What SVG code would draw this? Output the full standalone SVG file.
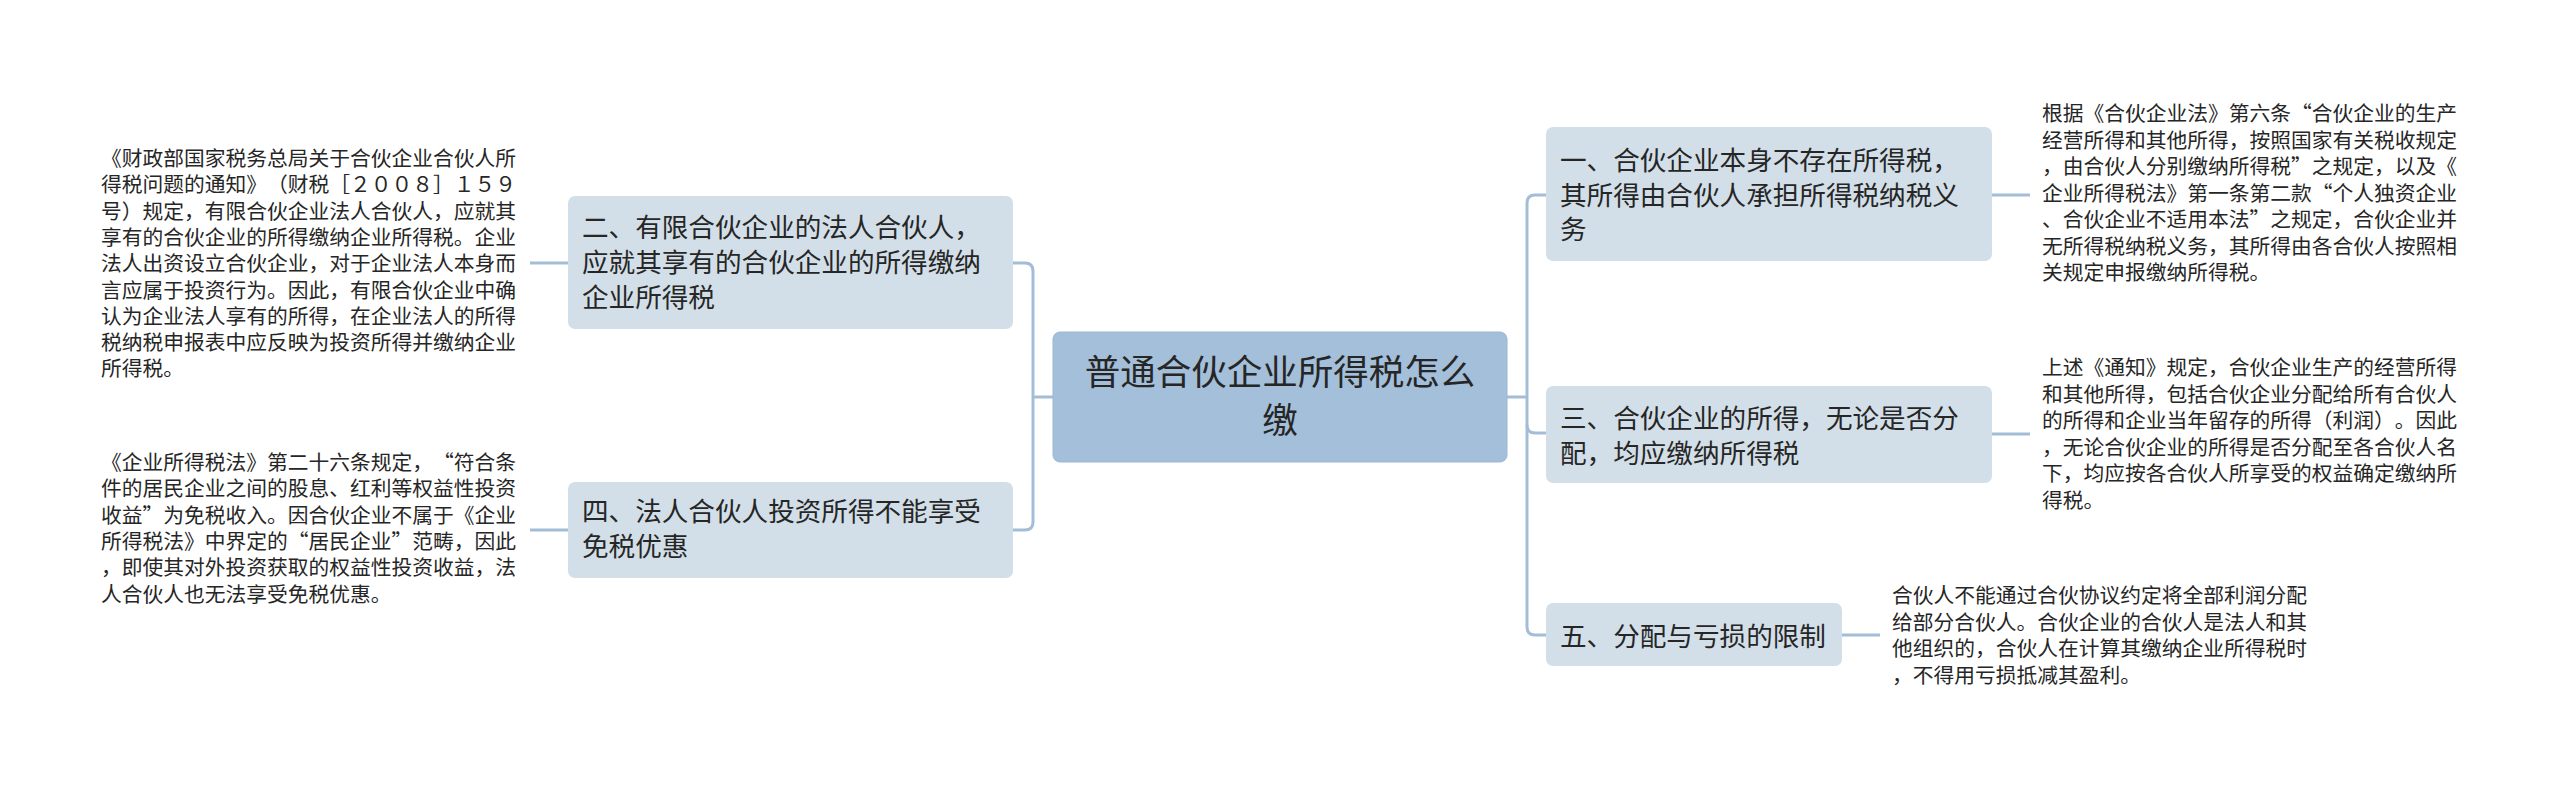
<svg xmlns="http://www.w3.org/2000/svg" width="2560" height="789" viewBox="0 0 2560 789">
<style>
.bg{fill:#ffffff}
.root{fill:#a3bfd9;stroke:#9bb8d3;stroke-width:1}
.node{fill:#d3dfe8}
.conn{fill:none;stroke:#a3bdd7;stroke-width:3;stroke-linecap:butt}
text{font-family:"Noto Sans CJK SC","Noto Sans",sans-serif;fill:#262626;text-spacing-trim:space-all}
.tr{font-size:35.5px}
.tn{font-size:26.6px}
.tl{font-size:20.75px;font-feature-settings:"fwid" 1}
</style>
<rect class="bg" x="0" y="0" width="2560" height="789"/>
<g id="connectors">
<path class="conn" d="M1053,397 H1033"/>
<path class="conn" d="M1013,263 H1025 Q1033,263 1033,271 V522 Q1033,530 1025,530 H1013"/>
<path class="conn" d="M1507,397 H1527"/>
<path class="conn" d="M1546,195 H1535 Q1527,195 1527,203 V627 Q1527,635 1535,635 H1546"/>
<path class="conn" d="M1527,425 Q1527,433 1535,433 H1546"/>
<path class="conn" d="M568,263 H530"/>
<path class="conn" d="M568,530 H530"/>
<path class="conn" d="M1992,195 H2030"/>
<path class="conn" d="M1992,434 H2030"/>
<path class="conn" d="M1842,635 H1880"/>
</g>
<g id="root">
<rect class="root" x="1053" y="332" width="454" height="130" rx="7"/>
<text class="tr" x="1280" text-anchor="middle"><tspan x="1280" y="385">普通合伙企业所得税怎么</tspan><tspan x="1280" y="433">缴</tspan></text>
</g>
<g id="n2">
<rect class="node" x="568" y="196" width="445" height="133" rx="7"/>
<text class="tn"><tspan x="582" y="237">二、有限合伙企业的法人合伙人，</tspan><tspan x="582" y="272">应就其享有的合伙企业的所得缴纳</tspan><tspan x="582" y="307">企业所得税</tspan></text>
</g>
<g id="n2-leaf">
<text class="tl"><tspan x="101" y="166">《财政部国家税务总局关于合伙企业合伙人所</tspan><tspan x="101" y="192.3">得税问题的通知》（财税［２００８］１５９</tspan><tspan x="101" y="218.6">号）规定，有限合伙企业法人合伙人，应就其</tspan><tspan x="101" y="244.9">享有的合伙企业的所得缴纳企业所得税。企业</tspan><tspan x="101" y="271.2">法人出资设立合伙企业，对于企业法人本身而</tspan><tspan x="101" y="297.5">言应属于投资行为。因此，有限合伙企业中确</tspan><tspan x="101" y="323.8">认为企业法人享有的所得，在企业法人的所得</tspan><tspan x="101" y="350.1">税纳税申报表中应反映为投资所得并缴纳企业</tspan><tspan x="101" y="376.4">所得税。</tspan></text>
</g>
<g id="n4">
<rect class="node" x="568" y="482" width="445" height="96" rx="7"/>
<text class="tn"><tspan x="582" y="521">四、法人合伙人投资所得不能享受</tspan><tspan x="582" y="556">免税优惠</tspan></text>
</g>
<g id="n4-leaf">
<text class="tl"><tspan x="101" y="470">《企业所得税法》第二十六条规定，“符合条</tspan><tspan x="101" y="496.3">件的居民企业之间的股息、红利等权益性投资</tspan><tspan x="101" y="522.6">收益”为免税收入。因合伙企业不属于《企业</tspan><tspan x="101" y="548.9">所得税法》中界定的“居民企业”范畴，因此</tspan><tspan x="101" y="575.2">，即使其对外投资获取的权益性投资收益，法</tspan><tspan x="101" y="601.5">人合伙人也无法享受免税优惠。</tspan></text>
</g>
<g id="n1">
<rect class="node" x="1546" y="127" width="446" height="134" rx="7"/>
<text class="tn"><tspan x="1560" y="170">一、合伙企业本身不存在所得税，</tspan><tspan x="1560" y="204.5">其所得由合伙人承担所得税纳税义</tspan><tspan x="1560" y="239">务</tspan></text>
</g>
<g id="n1-leaf">
<text class="tl"><tspan x="2042" y="121">根据《合伙企业法》第六条“合伙企业的生产</tspan><tspan x="2042" y="147.5">经营所得和其他所得，按照国家有关税收规定</tspan><tspan x="2042" y="174">，由合伙人分别缴纳所得税”之规定，以及《</tspan><tspan x="2042" y="200.5">企业所得税法》第一条第二款“个人独资企业</tspan><tspan x="2042" y="227">、合伙企业不适用本法”之规定，合伙企业并</tspan><tspan x="2042" y="253.5">无所得税纳税义务，其所得由各合伙人按照相</tspan><tspan x="2042" y="280">关规定申报缴纳所得税。</tspan></text>
</g>
<g id="n3">
<rect class="node" x="1546" y="386" width="446" height="97" rx="7"/>
<text class="tn"><tspan x="1560" y="428">三、合伙企业的所得，无论是否分</tspan><tspan x="1560" y="462.5">配，均应缴纳所得税</tspan></text>
</g>
<g id="n3-leaf">
<text class="tl"><tspan x="2042" y="375">上述《通知》规定，合伙企业生产的经营所得</tspan><tspan x="2042" y="401.5">和其他所得，包括合伙企业分配给所有合伙人</tspan><tspan x="2042" y="428">的所得和企业当年留存的所得（利润）。因此</tspan><tspan x="2042" y="454.5">，无论合伙企业的所得是否分配至各合伙人名</tspan><tspan x="2042" y="481">下，均应按各合伙人所享受的权益确定缴纳所</tspan><tspan x="2042" y="507.5">得税。</tspan></text>
</g>
<g id="n5">
<rect class="node" x="1546" y="603" width="296" height="63" rx="7"/>
<text class="tn"><tspan x="1560" y="646">五、分配与亏损的限制</tspan></text>
</g>
<g id="n5-leaf">
<text class="tl"><tspan x="1892" y="603">合伙人不能通过合伙协议约定将全部利润分配</tspan><tspan x="1892" y="629.5">给部分合伙人。合伙企业的合伙人是法人和其</tspan><tspan x="1892" y="656">他组织的，合伙人在计算其缴纳企业所得税时</tspan><tspan x="1892" y="682.5">，不得用亏损抵减其盈利。</tspan></text>
</g>
</svg>
